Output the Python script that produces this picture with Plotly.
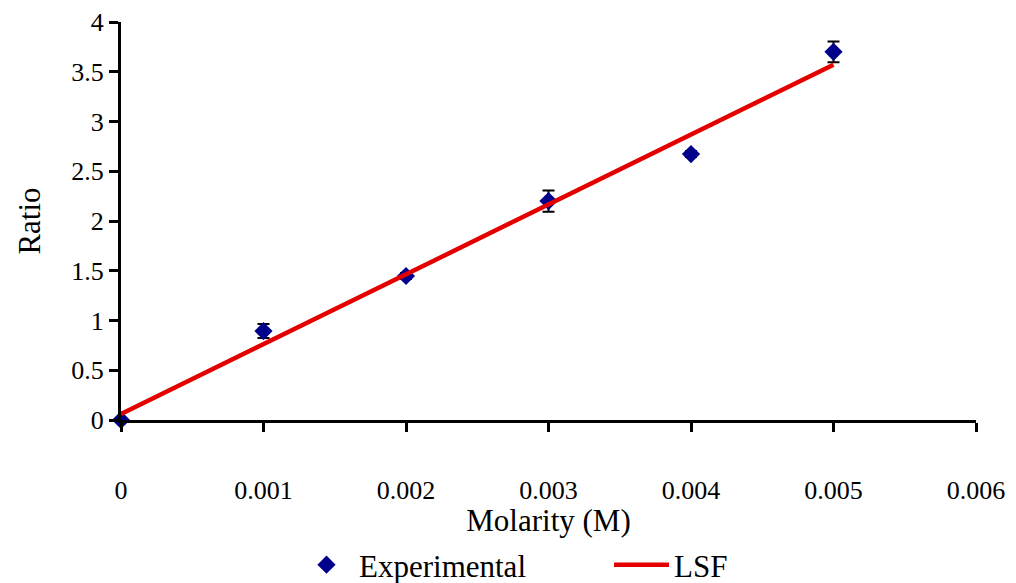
import plotly.graph_objects as go

molarity = [0, 0.001, 0.002, 0.003, 0.004, 0.005]
ratio = [0.0, 0.894, 1.447, 2.20, 2.673, 3.70]
ratio_err = [0.02, 0.07, 0.03, 0.107, 0.03, 0.105]
lsf_x = [0, 0.005]
lsf_y = [0.06, 3.57]

x_ticks = [0, 0.001, 0.002, 0.003, 0.004, 0.005, 0.006]
x_tick_text = ["0", "0.001", "0.002", "0.003", "0.004", "0.005", "0.006"]
y_ticks = [0, 0.5, 1, 1.5, 2, 2.5, 3, 3.5, 4]
y_tick_text = ["0", "0.5", "1", "1.5", "2", "2.5", "3", "3.5", "4"]

font = "Liberation Serif, Times New Roman, serif"

fig = go.Figure()
fig.add_trace(go.Scatter(
    x=molarity, y=ratio, mode="markers", name="Experimental",
    marker=dict(symbol="diamond", size=14, color="#00008B"),
    error_y=dict(type="data", array=ratio_err, visible=True, color="black", thickness=2, width=6),
    cliponaxis=False,
))
fig.add_trace(go.Scatter(
    x=lsf_x, y=lsf_y, mode="lines", name="LSF",
    line=dict(color="#E50000", width=4.5),
))

fig.update_layout(
    width=1016, height=583,
    margin=dict(l=121, r=40, t=22, b=163, autoexpand=False),
    plot_bgcolor="white", paper_bgcolor="white",
    font=dict(family=font, size=26, color="black"),
    showlegend=True,
    legend=dict(orientation="h", xref="container", x=294 / 1016, xanchor="left",
                yref="container", y=1 - 565 / 583, yanchor="middle",
                font=dict(size=31), entrywidth=245, itemwidth=55,
                bgcolor="rgba(0,0,0,0)"),
    xaxis=dict(range=[0, 0.006], tickvals=x_ticks, ticktext=x_tick_text,
               showline=True, linecolor="black", linewidth=3, ticks="outside",
               ticklen=9, tickwidth=3, tickcolor="black", showgrid=False, zeroline=False,
               ticklabelstandoff=36, automargin=False, tickfont=dict(size=26),
               title=dict(text="Molarity (M)", font=dict(size=31), standoff=8)),
    yaxis=dict(range=[0, 4], tickvals=y_ticks, ticktext=y_tick_text,
               showline=True, linecolor="black", linewidth=3, ticks="outside",
               ticklen=9, tickwidth=3, tickcolor="black", showgrid=False, zeroline=False,
               automargin=False, tickfont=dict(size=26),
               title=dict(text="Ratio", font=dict(size=31), standoff=22)),
)

fig.write_html("out.html", config={"displayModeBar": False},
               post_script="document.body.style.margin='0';")
